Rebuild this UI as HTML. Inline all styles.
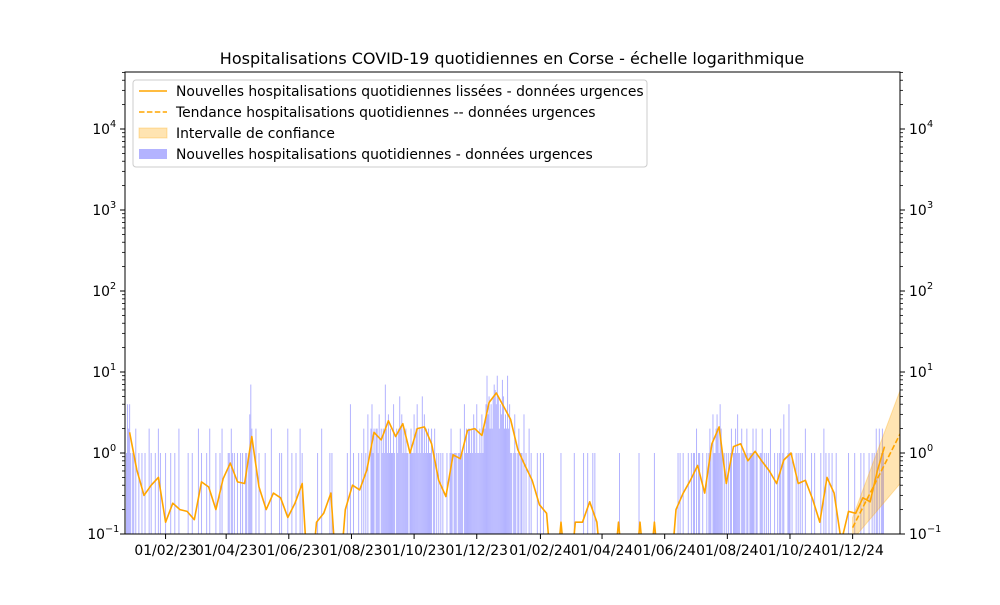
<!DOCTYPE html>
<html><head><meta charset="utf-8"><style>
body{margin:0;background:#fff}
svg text{font-family:"DejaVu Sans","Liberation Sans",sans-serif;fill:#000}
</style></head><body>
<svg id="c" width="1000" height="600" viewBox="0 0 1000 600" xmlns="http://www.w3.org/2000/svg">
<rect width="1000" height="600" fill="#fff"/>
<text x="512" y="64" font-size="16" text-anchor="middle">Hospitalisations COVID-19 quotidiennes en Corse - échelle logarithmique</text>
<defs><clipPath id="pc"><rect x="125" y="72" width="775" height="462"/></clipPath></defs>
<g id="bars" clip-path="url(#pc)"></g>
<g id="lines" clip-path="url(#pc)"></g>
<rect x="125" y="72" width="775" height="462" fill="none" stroke="#000" stroke-width="1"/>
<g id="axes"></g>
<g>
<rect x="133" y="80" width="514" height="87" rx="3" fill="#fff" fill-opacity="0.8" stroke="#ccc"/>
<line x1="139" y1="91" x2="167" y2="91" stroke="#ffa500" stroke-width="1.5"/>
<text x="176" y="96" font-size="13.9">Nouvelles hospitalisations quotidiennes lissées - données urgences</text>
<line x1="139" y1="112" x2="167" y2="112" stroke="#ffa500" stroke-width="1.5" stroke-dasharray="5.5,2.4"/>
<text x="176" y="117" font-size="13.9">Tendance hospitalisations quotidiennes -- données urgences</text>
<rect x="139" y="128" width="28" height="10" fill="#ffa500" fill-opacity="0.3" stroke="#ffa500" stroke-opacity="0.3"/>
<text x="176" y="138" font-size="13.9">Intervalle de confiance</text>
<rect x="139" y="149" width="28" height="10" fill="#b3b3ff"/>
<text x="176" y="159" font-size="13.9">Nouvelles hospitalisations quotidiennes - données urgences</text>
</g>
</svg>
<script>
// daily values starting 2022-12-25 (day index 1 = 25/12/22)
const daily = [
1,4,2,4,1,0,1, 1,0,2,0,0,1,0, 0,1,0,0,1,0,0, 0,2,0,1,0,0,0, 1,0,0,2,0,1,0,
0,0,0,1,0,0,0, 0,1,0,0,0,1,0, 0,0,2,0,0,0,0, 0,0,0,0,1,0,0, 0,1,0,0,0,0,0,
2,0,0,1,0,0,0, 0,1,0,0,2,0,0, 0,0,0,1,0,0,0, 1,0,2,0,0,0,0, 0,1,1,0,2,1,0,
1,0,0,1,0,0,1, 0,1,0,0,1,1,0, 1,3,7,2,0,0,0, 2,0,0,1,0,0,0, 0,0,1,0,0,0,0,
0,2,0,0,0,0,0, 0,0,1,0,1,0,0, 0,0,0,2,0,0,0, 1,0,0,0,1,0,0, 0,2,0,1,0,0,0,
0,0,0,0,0,0,0, 0,0,0,0,1,0,0, 0,2,0,0,0,0,0, 0,0,1,0,1,0,0, 0,0,0,0,0,0,0,
0,0,0,0,0,1,0, 0,4,0,0,1,0,0, 0,0,1,0,0,1,0, 2,0,1,0,3,0,0, 2,4,1,2,0,2,2,
1,3,0,2,1,2,1, 7,2,1,3,1,2,1, 1,4,1,0,2,1,2, 5,2,3,1,2,1,2, 1,1,0,1,2,1,1,
3,1,2,4,1,2,1, 2,5,1,3,1,2,1, 2,1,1,2,0,1,2, 0,1,0,1,0,1,0, 1,0,0,0,1,0,0,
1,2,1,0,1,1,1, 0,1,1,2,1,1,0, 4,1,2,1,2,2,1, 2,1,3,2,1,4,1, 1,2,1,3,1,2,2,
4,9,3,5,2,4,2, 5,7,6,4,9,5,2, 4,3,8,5,2,3,2, 9,2,4,1,1,0,1, 3,1,0,1,2,0,1,
1,0,3,0,1,0,0, 2,0,1,0,0,0,0, 0,1,0,0,1,0,0, 1,0,0,0,0,0,0, 0,0,0,0,0,0,0,
0,0,0,1,0,0,0, 0,0,0,0,0,0,0, 0,0,1,0,0,0,0, 0,0,0,0,1,0,0, 0,1,0,0,0,0,1,
0,1,0,0,0,0,0, 0,0,0,0,0,0,0, 0,0,0,0,0,0,0, 0,0,0,0,1,0,0, 0,0,0,0,0,0,0,
0,0,0,0,0,0,0, 0,0,1,0,0,0,0, 0,0,0,0,0,0,0, 0,0,0,1,0,0,0, 0,0,0,0,0,0,0,
0,0,0,0,0,0,0, 0,0,0,0,0,1,0, 1,0,0,1,0,0,0, 0,1,0,0,1,0,1, 1,0,2,0,1,1,0,
0,1,0,0,0,1,0, 1,2,1,0,3,1,1, 2,3,2,1,4,2,1, 0,1,0,1,0,1,0, 1,2,0,1,1,2,1,
3,1,1,0,2,1,1, 1,0,2,1,0,1,1, 1,2,1,0,2,1,0, 0,1,1,2,0,1,0, 1,0,1,0,2,0,0,
0,1,0,0,1,0,1, 2,0,1,3,0,0,0, 1,4,1,0,1,0,0, 0,1,0,1,0,1,0, 1,0,0,2,0,0,0,
0,0,1,0,0,1,0, 0,0,0,0,1,0,0, 2,0,1,0,0,1,0, 0,1,0,0,0,1,0, 0,0,0,0,0,0,0,
0,0,0,1,0,0,0, 0,0,1,0,0,0,0, 0,1,0,0,1,0,0, 0,0,1,0,0,1,0, 1,0,2,1,0,2,0,
1,2,1];
// smoothed 7-day values sampled weekly (day 4 + 7k)
const smoothed = [1.8,0.62,0.3,0.4,0.5,0.14,0.24,0.2,0.19,0.15,0.44,0.38,0.2,0.48,0.75,0.44,0.42,1.6,0.38,0.2,
0.32,0.28,0.16,0.24,0.42,0,0.14,0.18,0.32,0,0.2,0.4,0.35,0.62,1.8,1.45,2.5,1.6,2.3,1.0,
2.0,2.1,1.3,0.46,0.29,0.95,0.85,1.9,2.0,1.65,4.2,5.5,3.8,2.6,1.1,0.7,0.46,0.23,0.18,0,
0.14,0,0.14,0.14,0.25,0.14,0,0,0.14,0,0,0.14,0,0.14,0,0,0.2,0.32,0.46,0.7,
0.32,1.3,2.1,0.42,1.2,1.3,0.8,1.05,0.78,0.6,0.42,0.82,1.0,0.42,0.46,0.27,0.14,0.5,0.32,0.08,
0.19,0.18,0.28,0.25,0.6,1.2];
const trendDays = [708, 755];
const trendVals = [0.12, 1.8];
const trendLow = [0.085, 0.43];
const trendHigh = [0.16, 6.3];
const xTickLabels = ["01/02/23","01/04/23","01/06/23","01/08/23","01/10/23","01/12/23","01/02/24","01/04/24","01/06/24","01/08/24","01/10/24","01/12/24"];
const xTickDays = [39,98,159,220,281,342,404,464,525,586,647,708];
const yExps = [-1,0,1,2,3,4];

const NS="http://www.w3.org/2000/svg";
const X = d => 125 + (d + 0.5) * 1.027;
const Y = v => v <= 0 ? 600 : 453 - 81 * Math.log10(v);
function mk(tag, attrs, parent){const e=document.createElementNS(NS,tag);for(const k in attrs)e.setAttribute(k,attrs[k]);parent.appendChild(e);return e;}
const barsG=document.getElementById('bars'), linesG=document.getElementById('lines'), axesG=document.getElementById('axes');

daily.forEach((v,i)=>{ if(v>0){
  const d=i+1;
  const r=mk('rect',{x:X(d)-0.5,y:Y(v),width:1.0,height:534-Y(v)+2,fill:'#b3b3ff'},barsG);
  
  
}});

let band='';
for(let i=0;i<trendDays.length;i++) band+=(i?'L':'M')+X(trendDays[i])+','+Y(trendHigh[i]);
for(let i=trendDays.length-1;i>=0;i--) band+='L'+X(trendDays[i])+','+Y(trendLow[i]);
const bp=mk('path',{d:band+'Z',fill:'#ffa500','fill-opacity':0.3,stroke:'#ffa500','stroke-opacity':0.3},linesG);



let sp='';
smoothed.forEach((v,k)=>{const d=Math.min(4+7*k,739);sp+=(k?'L':'M')+X(d).toFixed(1)+','+Y(v).toFixed(1);});
const sl=mk('path',{d:sp,fill:'none',stroke:'#ffa500','stroke-width':1.6,'stroke-linejoin':'round'},linesG);



let tp='';
trendDays.forEach((d,i)=>{tp+=(i?'L':'M')+X(d)+','+Y(trendVals[i]);});
const tl=mk('path',{d:tp,fill:'none',stroke:'#ffa500','stroke-width':1.6,'stroke-dasharray':'5.5,2.4'},linesG);



xTickDays.forEach((d,i)=>{
  const x=X(d);
  mk('line',{x1:x,y1:534,x2:x,y2:539,stroke:'#000'},axesG);
  const t=mk('text',{x:x,y:555,'font-size':13.9,'text-anchor':'middle'},axesG);
  t.textContent=xTickLabels[i];
  
  
});
yExps.forEach(e=>{
  const y=Y(Math.pow(10,e));
  mk('line',{x1:120,y1:y,x2:125,y2:y,stroke:'#000'},axesG);
  mk('line',{x1:900,y1:y,x2:905,y2:y,stroke:'#000'},axesG);
  for(let m=2;m<10;m++){const ym=Y(m*Math.pow(10,e)); if(ym<72)continue;
    mk('line',{x1:122,y1:ym,x2:125,y2:ym,stroke:'#000','stroke-width':0.8},axesG);
    mk('line',{x1:900,y1:ym,x2:903,y2:ym,stroke:'#000','stroke-width':0.8},axesG);}
  [[116,'end'],[909,'start']].forEach(([tx,anc])=>{
    const t=mk('text',{x:tx,y:y+5,'font-size':13.9,'text-anchor':anc},axesG);
    
    
    t.textContent='10';
    const s=mk('text',{x:tx+18,y:y-2,'font-size':9.7,'text-anchor':'start'},axesG);
    s.textContent=String(e).replace('-','\u2212');
    if(anc==='end'){ const off=(e<0?11:6); t.setAttribute('x', tx - off); s.setAttribute('x', tx - off); }
  });
});
</script>
</body></html>
